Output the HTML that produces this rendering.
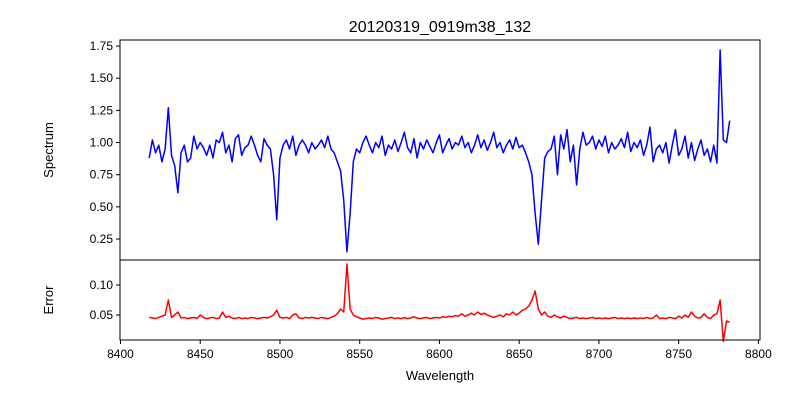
<!DOCTYPE html>
<html><head><meta charset="utf-8"><style>
body{margin:0;background:#fff;font-family:"Liberation Sans",sans-serif}
svg text{font-family:"Liberation Sans",sans-serif;fill:#000}
</style></head><body>
<svg id="c" width="800" height="400" xmlns="http://www.w3.org/2000/svg">
<rect width="800" height="400" fill="#fff"/>
<text x="440" y="32" font-size="16" text-anchor="middle">20120319_0919m38_132</text>
<text transform="translate(53,150) rotate(-90)" font-size="13" text-anchor="middle">Spectrum</text>
<text transform="translate(53,300) rotate(-90)" font-size="13" text-anchor="middle">Error</text>
<text x="440" y="380" font-size="13" text-anchor="middle">Wavelength</text>
<g id="g"></g>
</svg>
<script>
const wlStart = 8418, wlStep = 2;
const flux = [0.88,1.02,0.92,0.98,0.85,0.95,1.27,0.90,0.82,0.61,
0.92,0.98,0.85,0.88,1.05,0.95,1.00,0.96,0.90,0.98,
0.88,1.02,1.00,1.08,0.92,0.98,0.85,1.03,1.06,0.90,
0.96,0.98,1.05,0.98,0.90,0.85,1.03,0.98,0.95,0.75,
0.40,0.88,0.98,1.02,0.95,1.05,0.90,0.98,1.02,0.98,
0.92,1.00,0.95,0.98,1.02,0.96,1.05,0.95,0.92,0.85,
0.78,0.55,0.15,0.45,0.85,0.95,0.92,1.00,1.05,0.98,
0.92,1.00,0.96,1.05,0.90,0.98,0.95,1.02,0.93,1.00,
1.08,0.96,0.92,1.03,0.88,1.00,0.95,1.02,0.97,0.92,
1.00,1.06,0.92,0.98,1.03,0.95,1.00,0.98,1.05,0.96,
1.00,0.92,0.98,1.06,0.96,1.02,0.94,1.00,1.08,0.96,
1.00,0.92,0.98,1.02,0.95,1.04,0.96,0.98,0.92,0.85,
0.75,0.45,0.21,0.55,0.88,0.93,0.95,1.05,0.75,1.06,
0.95,1.10,0.85,0.98,0.67,0.95,1.08,0.98,1.00,1.05,
0.95,1.02,0.97,1.05,0.92,1.00,0.95,0.98,1.03,0.96,
1.08,0.93,1.00,0.96,1.02,0.90,0.98,1.12,0.85,0.95,
0.98,0.92,1.00,0.84,0.98,1.10,0.90,0.95,1.05,0.88,
1.00,0.86,0.95,1.02,0.90,0.95,0.85,0.98,0.84,1.72,
1.02,1.00,1.17];
const err = [0.046,0.045,0.044,0.046,0.048,0.050,0.075,0.046,0.050,0.055,
0.045,0.046,0.044,0.045,0.046,0.044,0.050,0.046,0.044,0.045,
0.046,0.044,0.045,0.055,0.046,0.048,0.045,0.044,0.046,0.044,
0.045,0.044,0.046,0.045,0.044,0.045,0.046,0.045,0.047,0.050,
0.058,0.046,0.045,0.046,0.044,0.050,0.052,0.045,0.044,0.046,
0.045,0.046,0.045,0.044,0.046,0.045,0.044,0.046,0.048,0.052,
0.060,0.055,0.135,0.060,0.050,0.047,0.045,0.043,0.044,0.045,
0.044,0.046,0.045,0.043,0.044,0.045,0.046,0.044,0.045,0.044,
0.046,0.044,0.045,0.047,0.045,0.044,0.045,0.046,0.044,0.045,
0.046,0.045,0.047,0.046,0.048,0.047,0.049,0.048,0.052,0.048,
0.050,0.053,0.050,0.055,0.051,0.053,0.050,0.048,0.046,0.048,
0.050,0.047,0.052,0.050,0.055,0.050,0.053,0.058,0.060,0.065,
0.075,0.090,0.060,0.050,0.055,0.048,0.046,0.050,0.047,0.045,
0.048,0.046,0.044,0.045,0.046,0.044,0.045,0.044,0.045,0.046,
0.044,0.045,0.044,0.045,0.044,0.045,0.046,0.044,0.045,0.044,
0.045,0.044,0.045,0.044,0.045,0.044,0.046,0.044,0.045,0.050,
0.044,0.045,0.044,0.046,0.045,0.044,0.048,0.045,0.050,0.046,
0.055,0.048,0.045,0.046,0.052,0.046,0.044,0.050,0.052,0.075,
0.006,0.040,0.038];
const xTicks = [8400,8450,8500,8550,8600,8650,8700,8750,8800];
const fluxTicks = [0.25,0.50,0.75,1.00,1.25,1.50,1.75];
const errTicks = [0.05,0.10];

const NS='http://www.w3.org/2000/svg';
const g=document.getElementById('g');
const L=120,R=760,T1=40,B1=260,T2=260,B2=340;
const xMin=8399.7,xMax=8801;
const x=v=>L+(v-xMin)/(xMax-xMin)*(R-L);
const y1=v=>B1-(v-0.087)/(1.797-0.087)*(B1-T1);
const y2=v=>B2-(v-0.0083)/(0.1417-0.0083)*(B2-T2);
function mk(t,a){const e=document.createElementNS(NS,t);for(const k in a)e.setAttribute(k,a[k]);g.appendChild(e);return e;}
function line(data,yf,color,name){
  let d='';data.forEach((v,i)=>{d+=(i?'L':'M')+x(wlStart+i*wlStep).toFixed(2)+','+yf(v).toFixed(2);});
  const p=mk('path',{d:d,fill:'none',stroke:color,'stroke-width':1.5,'stroke-linejoin':'round'});
  
  
}
line(flux,y1,'#0000ff','spectrum-line');
line(err,y2,'#ff0000','error-line');
// axes frames
const f1=mk('rect',{x:L,y:T1,width:R-L,height:B1-T1,fill:'none',stroke:'#000','stroke-width':1});


const f2=mk('rect',{x:L,y:T2,width:R-L,height:B2-T2,fill:'none',stroke:'#000','stroke-width':1});


xTicks.forEach(v=>{
  const px=x(v);
  mk('line',{x1:px,x2:px,y1:B2,y2:B2+4,stroke:'#000'});
  const t=mk('text',{x:px,y:B2+18,'font-size':12,'text-anchor':'middle'});t.textContent=v;
  
  
});
fluxTicks.forEach(v=>{
  const py=y1(v);
  mk('line',{x1:L-4,x2:L,y1:py,y2:py,stroke:'#000'});
  const t=mk('text',{x:L-7,y:py+4,'font-size':12,'text-anchor':'end'});t.textContent=v.toFixed(2);
  
  
});
errTicks.forEach(v=>{
  const py=y2(v);
  mk('line',{x1:L-4,x2:L,y1:py,y2:py,stroke:'#000'});
  const t=mk('text',{x:L-7,y:py+4,'font-size':12,'text-anchor':'end'});t.textContent=v.toFixed(2);
  
  
});
</script>
</body></html>
